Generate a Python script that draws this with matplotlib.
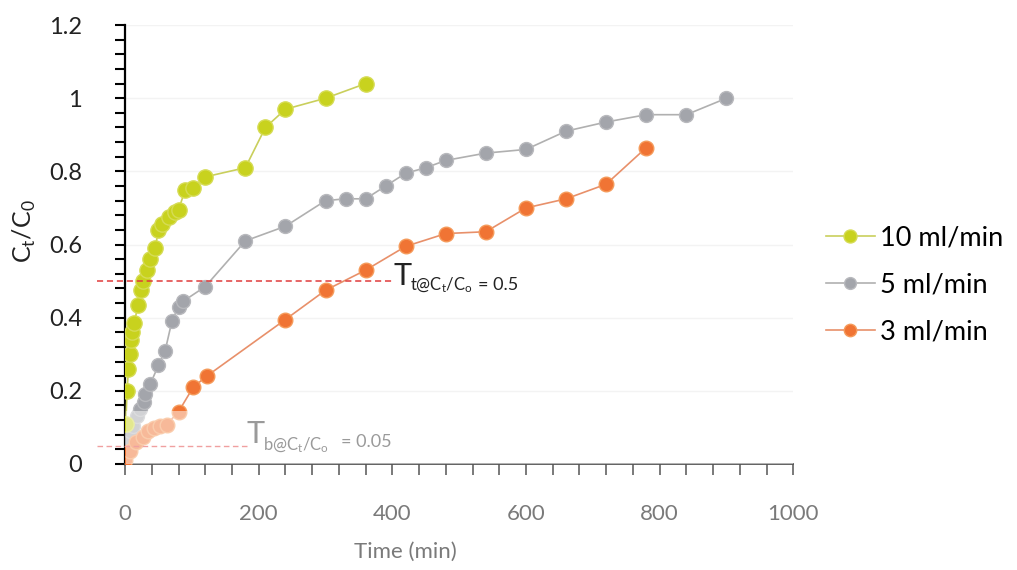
import matplotlib
matplotlib.use('Agg')
import matplotlib.pyplot as plt
from matplotlib.ticker import MultipleLocator

plt.rcParams['font.family'] = ['Lato', 'DejaVu Sans']

# 10 ml/min
t_10 = [1, 3, 5, 7, 9, 11, 14, 19, 24, 27, 33, 38, 45, 50, 55, 65, 75, 80, 90, 102, 120, 180, 210, 240, 300, 360]
c_10 = [0.11, 0.20, 0.26, 0.30, 0.34, 0.36, 0.385, 0.435, 0.475, 0.50, 0.53, 0.56, 0.59, 0.64, 0.655, 0.675,
        0.69, 0.695, 0.75, 0.755, 0.785, 0.81, 0.92, 0.97, 1.0, 1.04]

# 5 ml/min
t_5 = [0, 7, 12, 18, 23, 28, 30, 38, 50, 60, 70, 80, 87, 120, 180, 240, 300, 330, 360, 390, 420, 450, 480,
       540, 600, 660, 720, 780, 840, 900]
c_5 = [0.065, 0.09, 0.105, 0.13, 0.15, 0.17, 0.19, 0.22, 0.27, 0.31, 0.39, 0.43, 0.445, 0.485, 0.61, 0.65,
       0.72, 0.725, 0.725, 0.76, 0.795, 0.81, 0.83, 0.85, 0.86, 0.91, 0.935, 0.955, 0.955, 1.0]

# 3 ml/min
t_3 = [0, 7, 17, 27, 35, 43, 52, 62, 80, 102, 122, 240, 300, 360, 420, 480, 540, 600, 660, 720, 780]
c_3 = [0.01, 0.035, 0.06, 0.075, 0.09, 0.098, 0.103, 0.107, 0.143, 0.21, 0.24, 0.395, 0.475, 0.53, 0.595,
       0.63, 0.635, 0.70, 0.725, 0.765, 0.865]

labels = ['10 ml/min', '5 ml/min', '3 ml/min']

fig = plt.figure(figsize=(10.17, 5.70), dpi=100)
ax = fig.add_axes([0.123, 0.186, 0.657, 0.770])

ax.plot(t_10, c_10, '-o', color='#c9cf5c', lw=1.2, ms=11, mfc='#c8d21e', mec='#d6dc55', label=labels[0], zorder=4)
ax.plot(t_5, c_5, '-o', color='#b0b0b0', lw=1.2, ms=10, mfc='#a3a5ab', mec='#b8b9bd', label=labels[1], zorder=3)
ax.plot(t_3, c_3, '-o', color='#e8906a', lw=1.2, ms=10.5, mfc='#f07434', mec='#f59a5a', label=labels[2], zorder=3)

# pale band near the bottom (as in the scanned figure)
ax.axhspan(0, 0.145, xmin=0.002, color='white', alpha=0.5, zorder=5, lw=0)

# threshold lines
ax.plot([-42, 402], [0.5, 0.5], ls=(0, (4, 2.5)), color='#e03a3a', lw=1.1, clip_on=False, zorder=6)
ax.plot([-42, 182], [0.05, 0.05], ls=(0, (4, 2.5)), color='#f0a0a0', lw=1.0, clip_on=False, zorder=6)

# T_t annotation
ax.text(401, 0.489, 'T', fontsize=22, color='#222222', zorder=7)
ax.annotate(r'$\mathregular{t@C_t/C_o}$', (401, 0.489), xytext=(12, -4), textcoords='offset points',
            fontsize=12, color='#222222', zorder=7)
ax.annotate('= 0.5', (401, 0.489), xytext=(61, -3.6), textcoords='offset points',
            fontsize=13, color='#222222', zorder=7)

# T_b annotation
ax.text(182, 0.057, 'T', fontsize=22, color='#9a9a9a', zorder=7)
ax.annotate(r'$\mathregular{b@C_t/C_o}$', (182, 0.057), xytext=(12, -5), textcoords='offset points',
            fontsize=12, color='#9a9a9a', zorder=7)
ax.annotate('= 0.05', (182, 0.057), xytext=(68, -3), textcoords='offset points',
            fontsize=13, color='#9a9a9a', zorder=7)

ax.set_xlim(0, 1000)
ax.set_ylim(0, 1.2)
ax.xaxis.set_major_locator(MultipleLocator(200))
ax.xaxis.set_minor_locator(MultipleLocator(40))
ax.yaxis.set_major_locator(MultipleLocator(0.2))
ax.yaxis.set_minor_locator(MultipleLocator(0.04))
ax.set_yticks([0, 0.2, 0.4, 0.6, 0.8, 1.0, 1.2])
ax.set_yticklabels(['0', '0.2', '0.4', '0.6', '0.8', '1', '1.2'])

ax.grid(axis='y', which='major', color='#f3f3f3', lw=1)
ax.set_axisbelow(True)

for s in ['top', 'right']:
    ax.spines[s].set_visible(False)
ax.spines['left'].set_linewidth(1.6)
ax.spines['bottom'].set_linewidth(1.3)
ax.spines['bottom'].set_color('#555555')

ax.tick_params(axis='y', which='both', direction='out', length=7, width=1.5, labelsize=17, pad=24,
               labelcolor='#222222')
ax.tick_params(axis='x', which='both', direction='out', length=8, width=1.1, labelsize=16, pad=21,
               labelcolor='#7a7a7a', color='#555555')

ax.set_xlabel('Time (min)', fontsize=16, color='#7a7a7a')
ax.xaxis.set_label_coords(0.42, -0.178)
ax.set_ylabel(r'C$_\mathregular{t}$/C$_\mathregular{0}$', fontsize=18, color='#222222')
ax.yaxis.set_label_coords(-0.13, 0.53)

leg = ax.legend(loc='center left', bbox_to_anchor=(1.049, 0.408), frameon=False, fontsize=19.5,
                handlelength=1.8, labelspacing=0.82, handletextpad=0.2, markerscale=0.85,
                borderpad=0, borderaxespad=0)

fig.savefig('out.png', dpi=100)
